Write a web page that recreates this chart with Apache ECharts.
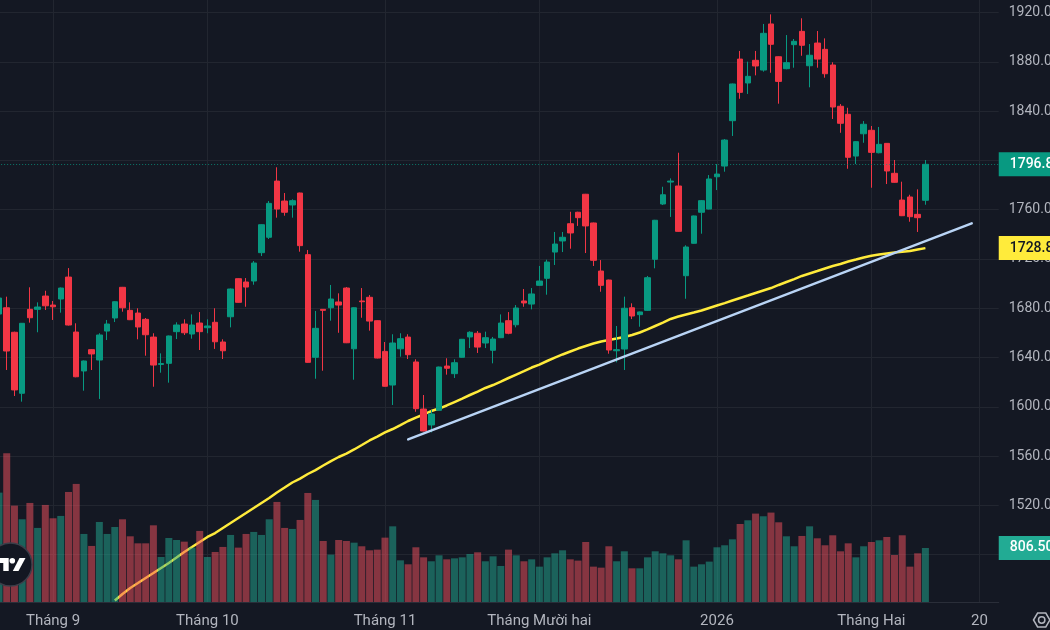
<!DOCTYPE html>
<html>
<head>
<meta charset="utf-8">
<style>html,body{margin:0;padding:0;background:#141823;overflow:hidden}#c{width:1050px;height:630px}</style>
<script src="https://cdn.jsdelivr.net/npm/echarts@6/dist/echarts.min.js"></script>
</head>
<body>
<div id="c"></div>
<script>
const opens = [1675.3,1680.4,1660.5,1611,1679.1,1679.1,1689.9,1682.6,1687.5,1705.3,1660.7,1629.1,1646.4,1638,1661.5,1672.1,1697,1678.3,1676.1,1671,1656.6,1634.4,1635.3,1661,1667.2,1659.1,1668,1664.2,1668.6,1652.6,1673.1,1704,1701.3,1702.1,1725.1,1737.6,1783.2,1767,1763.8,1773.5,1723.5,1640.2,1679.1,1680.4,1685.1,1696.4,1647.1,1685.9,1688.9,1669.9,1645,1617.7,1647.1,1656.6,1636.4,1598.2,1585.3,1597.2,1633.1,1626.9,1640.2,1656.7,1659.7,1651.8,1645.9,1656.1,1669.9,1666.6,1685.9,1683.4,1698.6,1704.3,1725.6,1734.6,1748.6,1757.9,1772.5,1749.2,1710.2,1702.9,1645.5,1646.9,1680.4,1674.8,1678.3,1719.7,1764.6,1782.4,1779.2,1706.4,1732.7,1757.9,1760.5,1786.7,1795.4,1832.2,1882.2,1862.8,1881.2,1873.3,1910.7,1884.1,1874.4,1893.9,1904.7,1876.8,1895.2,1890.1,1877.4,1843.9,1837.4,1803.5,1821.6,1824.4,1806.2,1813.8,1789.5,1767.8,1770.3,1756.2,1767.6];
const closes = [1688.3,1645.3,1613.7,1667.8,1672.3,1681,1682,1681.2,1696.4,1666.4,1624.4,1637.2,1642.9,1658.3,1667.2,1685.3,1680.4,1670.7,1664.8,1658.5,1633.9,1635.1,1657.5,1666.4,1660.1,1666.4,1661,1665.6,1652.8,1645.5,1695.6,1684.8,1697.2,1716.7,1747.8,1765.1,1760.5,1757.9,1767.3,1730.8,1636.1,1663.7,1678.3,1687.5,1682.6,1652,1680.4,1685.3,1669.6,1639.6,1616.7,1651.8,1655.3,1642.3,1598.5,1580.4,1594.2,1632.3,1631.3,1635.8,1654.8,1660.5,1648.5,1656.1,1655,1668,1659.7,1680.2,1684.3,1691.6,1702.1,1717.5,1732.1,1737.6,1741.1,1753.5,1746.8,1718.9,1698.6,1646.1,1646.4,1680,1673.7,1677,1704.8,1751.4,1772.1,1783.2,1742.4,1729.7,1754.9,1767.3,1784.9,1788.9,1816.5,1862,1855.2,1868.2,1876.6,1903.1,1894.2,1864.1,1879.3,1896.6,1893.4,1885.3,1882.2,1870.3,1843.3,1830.1,1802.5,1815.2,1829.3,1806.5,1813,1791.4,1782.2,1755.1,1754.3,1753.5,1796.8];
const lows = [1672.1,1629.9,1608.8,1604.2,1668.3,1660.5,1678.6,1670.5,1676.4,1666,1624,1613.1,1629.9,1606.4,1654.2,1668.8,1677.2,1670.4,1654.8,1641.5,1616.3,1627.7,1619.6,1655,1658.3,1655.3,1646.1,1659.7,1647,1638.8,1664.5,1684.5,1681.2,1699.1,1722.4,1736.2,1753.5,1755.1,1753.5,1725.9,1635.8,1622.8,1629.3,1669.9,1660.1,1651.7,1622,1672.3,1661.8,1639.3,1616.4,1601.5,1640.7,1638.8,1596,1580.1,1579.3,1596.9,1626.1,1623.4,1639.9,1647.7,1643.7,1647.7,1635.3,1655.8,1658.9,1664.5,1681.2,1679.1,1698.3,1691,1715.1,1725.6,1728.3,1746.8,1724.8,1714.3,1693.4,1643.1,1636.1,1629.9,1671.2,1665,1677.8,1712.4,1763.8,1754.1,1742.1,1687.7,1732.4,1740.5,1760.2,1775.9,1790.8,1819.8,1850,1853.9,1869,1872,1871.1,1846,1873.9,1875.2,1884.9,1859.3,1875.2,1867.1,1833.6,1822.4,1793.2,1797,1814.3,1777.8,1805.7,1780.8,1781.9,1754.8,1750.2,1741.9,1764];
const highs = [1691.6,1689.4,1661,1668,1697,1684.8,1694.2,1685.9,1696.8,1712.6,1667.8,1637.6,1646.9,1659.7,1670.5,1685.6,1697.3,1684.8,1680,1672.1,1659.7,1643.4,1657.8,1668.6,1671,1675,1676.9,1671,1680,1654.8,1696,1704.3,1704.5,1718.3,1748.1,1767,1794.4,1773.5,1768.4,1773.8,1727.3,1677.8,1679.4,1698.9,1692.1,1697.2,1680.7,1696.4,1690.7,1670.2,1652.6,1658.9,1659.7,1658.9,1638.6,1609.6,1597.4,1632.6,1639.4,1638.6,1655.1,1661.3,1661.5,1661,1656.7,1675,1676.9,1682.6,1695.6,1696.4,1714.3,1719.4,1741.9,1741.9,1758.3,1758.3,1772.8,1749.5,1719.1,1703.2,1665.6,1689.4,1684,1677.3,1706.2,1751.7,1778.6,1785.4,1806.2,1731.1,1755.2,1767.8,1788.1,1797,1817.3,1862.3,1888.8,1880.1,1888.8,1910.7,1918.5,1884.4,1901.7,1898.5,1915.3,1894.4,1905,1899,1879.6,1845.7,1842.7,1815.5,1831.9,1827.9,1827.1,1814.1,1800.3,1782.7,1772.1,1776.5,1800.3];
const volumes = [1633,2221,1439,1235,1479,1106,1449,1250,1285,1643,1763,1016,837,1195,1016,1120,1235,981,876,876,1145,672,956,926,901,812,1061,672,747,822,1001,812,1016,1046,1001,1235,1494,1106,1091,1225,1628,1524,911,707,926,911,886,832,772,782,961,1130,622,563,817,667,608,697,637,652,667,717,742,608,682,538,782,697,608,637,528,667,727,772,637,618,896,528,513,832,608,757,503,503,667,757,727,697,637,921,528,563,603,817,847,936,1165,1220,1320,1280,1335,1190,981,832,986,1130,951,847,996,757,876,667,832,896,921,971,702,996,528,727,806.5];
const maValues = [null,null,null,null,null,null,null,null,null,null,null,null,null,null,null,1442.8,1448.1,1453,1457,1461.1,1465.1,1469.2,1473.3,1477.7,1482.2,1486.2,1490.3,1494.4,1497.6,1501.7,1505.7,1509.8,1513.8,1517.9,1522,1526,1530.5,1534.5,1538.6,1541.8,1545.5,1548.7,1552.4,1556,1559.3,1562.1,1565.4,1569,1572.7,1575.9,1579.2,1582,1585.2,1588.5,1591.3,1593.8,1596.6,1598.6,1601.1,1603.9,1606.7,1609.6,1612.4,1615.3,1617.7,1620.5,1623.4,1626.2,1629,1631.9,1634.3,1637.2,1640,1642.5,1644.9,1647.3,1649.4,1651.4,1653,1654.2,1655.4,1656.7,1658.3,1660.3,1662.8,1665.6,1668.4,1671.3,1673.3,1674.9,1676.5,1678.2,1680.2,1682.2,1684.2,1686.3,1688.3,1690.3,1692.4,1694.4,1696.4,1698.9,1701.3,1703.7,1706.2,1708.2,1710.2,1712.3,1714.3,1715.9,1717.9,1719.5,1721.2,1722.6,1723.6,1724.4,1725.2,1725.8,1726.5,1727.7,1728.8];
const trendStart = [53, 1573.6];
const trendEnd = [126, 1748.9];
const tickLabels = {7:'Tháng 9',27:'Tháng 10',50:'Tháng 11',70:'Tháng Mười hai',93:'2026',113:'Tháng Hai',127:'20'};
const slotCount = 130;
const lastPrice = 1796.8, lastMa = 1728.8, lastVolume = 806.5;
const categories = Array.from({length:slotCount},(_,i)=>tickLabels[i]||'');

const UP='#089981', DOWN='#F23645', BG='#141823', GRID='#222630', TXT='#b2b5be';
const FONT='Roboto, "Noto Sans", sans-serif';
const candleData = opens.map((o,i)=>[o,closes[i],lows[i],highs[i]]);
const volData = volumes.map((v,i)=>({value:v,itemStyle:{color:closes[i]>=opens[i]?'rgba(34,171,148,0.5)':'rgba(247,82,95,0.5)'}}));
const tag=(bg,fg,txt)=>({show:true,position:'end',distance:0,formatter:txt,backgroundColor:bg,color:fg,fontFamily:FONT,fontSize:14,fontWeight:500,padding:[6,20,4,11],lineHeight:14});

const chart = echarts.init(document.getElementById('c'),null,{renderer:'canvas',width:1050,height:630});
chart.setOption({
  animation:false,
  backgroundColor:BG,
  grid:[
    {left:-4.86,right:51.26,top:12.5,bottom:26,outerBoundsMode:'none'},
    {left:-4.86,right:51.26,top:0,bottom:28,outerBoundsMode:'none'}
  ],
  xAxis:[
    {type:'category',gridIndex:0,data:categories,show:false,boundaryGap:true},
    {type:'category',gridIndex:1,data:categories,boundaryGap:true,
      axisLine:{show:true,lineStyle:{color:'#2a2e39',width:1}},
      axisTick:{show:false},
      axisLabel:{interval:(i,v)=>v!=='',color:TXT,fontFamily:FONT,fontSize:15,margin:12},
      splitLine:{show:true,alignWithLabel:true,interval:(i,v)=>v!=='',lineStyle:{color:GRID,width:1}}}
  ],
  yAxis:[
    {type:'value',gridIndex:0,position:'right',min:1440,max:1920,interval:40,
      axisLine:{show:false},axisTick:{show:false},
      axisLabel:{color:TXT,fontFamily:FONT,fontSize:14,margin:10,showMinLabel:false,padding:[3,0,0,0],formatter:v=>v.toFixed(2)},
      splitLine:{show:true,showMinLine:false,lineStyle:{color:GRID,width:1}}},
    {type:'value',gridIndex:1,min:0,max:8988,show:false,splitLine:{show:false}}
  ],
  series:[
    {name:'MA',type:'line',xAxisIndex:0,yAxisIndex:0,data:maValues,z:1,showSymbol:false,symbol:'none',
      lineStyle:{color:'#ffeb3b',width:2.5},
      markLine:{silent:true,symbol:'none',z:20,lineStyle:{color:'transparent',width:0},
        data:[{yAxis:lastMa,label:tag('#ffeb3b','#131722','1728.80')}]}},
    {name:'Price',type:'candlestick',xAxisIndex:0,yAxisIndex:0,data:candleData,z:3,barWidth:6,
      itemStyle:{color:UP,color0:DOWN,borderColor:UP,borderColor0:DOWN,borderWidth:1},
      markLine:{silent:true,symbol:'none',z:20,lineStyle:{color:'rgba(8,153,129,0.75)',type:[1,2],width:1},
        data:[{yAxis:lastPrice,label:tag(UP,'#ffffff','1796.80')}]}},
    {name:'Volume',type:'bar',xAxisIndex:1,yAxisIndex:1,data:volData,z:3,barWidth:7,
      markLine:{silent:true,symbol:'none',z:20,lineStyle:{color:'transparent',width:0},
        data:[{yAxis:lastVolume,label:tag('#22ab94','#ffffff','806.50K')}]}},
    {name:'Trend',type:'line',xAxisIndex:0,yAxisIndex:0,data:[trendStart,trendEnd],z:5,showSymbol:false,symbol:'none',
      lineStyle:{color:'#b9d4f5',width:2.5,cap:'round'}}
  ],
  graphic:[
    {type:'circle',z:30,shape:{cx:10.5,cy:564.5,r:21.5},style:{fill:'#131722',stroke:'#3a3e49',lineWidth:1.5}},
    {type:'polygon',z:31,shape:{points:[[0,558],[8.7,558],[8.7,571],[3.3,571],[3.3,563],[0,563]]},style:{fill:'#ffffff'}},
    {type:'circle',z:31,shape:{cx:12.3,cy:560.8,r:2.8},style:{fill:'#ffffff'}},
    {type:'polygon',z:31,shape:{points:[[19.5,558],[25.5,558],[18.5,571],[12.8,571]]},style:{fill:'#ffffff'}},
    {type:'polygon',z:31,shape:{points:[[1033.5,620],[1037.6,613],[1045.8,613],[1049.9,620],[1045.8,627],[1037.6,627]]},style:{fill:'none',stroke:'#b2b5be',lineWidth:1.5}},
    {type:'circle',z:31,shape:{cx:1041.7,cy:620,r:3.2},style:{fill:'none',stroke:'#b2b5be',lineWidth:1.5}}
  ]
});
</script>
</body>
</html>
